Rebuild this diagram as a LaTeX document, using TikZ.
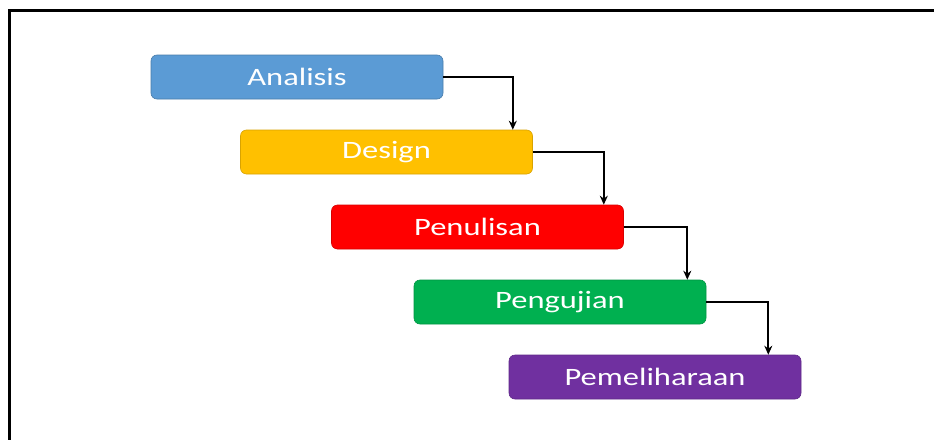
\documentclass[tikz,border=0pt]{standalone}
\usepackage{fontspec}
\setmainfont[FakeStretch=1.3]{Carlito}
\usetikzlibrary{arrows.meta}
\definecolor{cblue}{HTML}{5B9BD5}
\definecolor{cyellow}{HTML}{FFC000}
\definecolor{cred}{HTML}{FF0000}
\definecolor{cgreen}{HTML}{00B050}
\definecolor{cpurple}{HTML}{7030A0}
\tikzset{
  stage/.style={rounded corners=6pt, minimum width=292pt, minimum height=44pt,
    inner sep=0pt, text=white, font=\fontsize{25}{29}\selectfont, line width=0.6pt},
  arr/.style={line width=2pt, -{Stealth[length=9pt,width=8pt]}}
}
\begin{document}
\begin{tikzpicture}[x=1pt,y=-1pt]
\useasboundingbox (0,0) rectangle (934,439);
\fill[white] (0,0) rectangle (934,439);
\draw[line width=3pt] (9,445) -- (9,10) -- (940,10);
\node[stage, fill=cblue, draw=cblue!80!black] (a) at (297,77) {Analisis};
\node[stage, fill=cyellow, draw=cyellow!85!black] (d) at (386.5,152) {Design};
\node[stage, fill=cred, draw=cred!85!black] (p) at (477.5,227) {Penulisan};
\node[stage, fill=cgreen, draw=cgreen!85!black] (u) at (560,302) {Pengujian};
\node[stage, fill=cpurple, draw=cpurple!85!black] (m) at (655,377) {Pemeliharaan};
\draw[arr] (a.east) -| ([xshift=-20pt]d.north east);
\draw[arr] (d.east) -| ([xshift=-20pt]p.north east);
\draw[arr] (p.east) -| ([xshift=-19pt]u.north east);
\draw[arr] (u.east) -| ([xshift=-33pt]m.north east);
\end{tikzpicture}
\end{document}
